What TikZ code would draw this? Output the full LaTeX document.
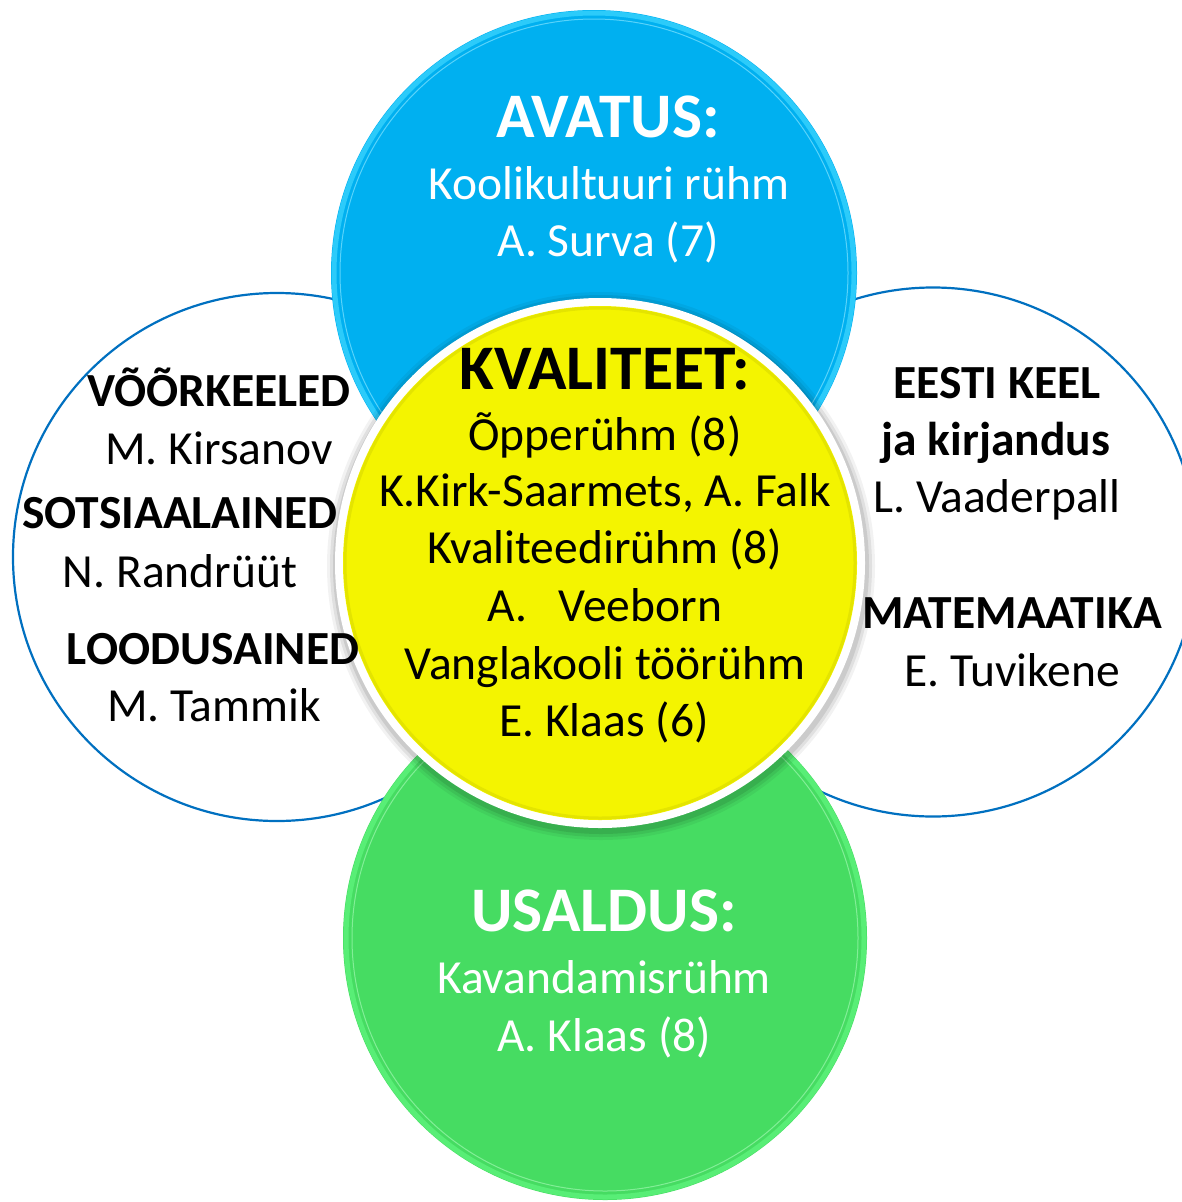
\documentclass[tikz,border=0pt]{standalone}
\usepackage{fontspec}
\setmainfont{Carlito}
\definecolor{ringblue}{HTML}{0070C0}
\definecolor{topblue}{HTML}{00B0F0}
\definecolor{topbluerim}{HTML}{2CCBFA}
\definecolor{topbluehi}{HTML}{7FE2FF}
\definecolor{botgreen}{HTML}{46DC62}
\definecolor{botgreenrim}{HTML}{58EE76}
\definecolor{botgreenhi}{HTML}{9CF7AE}
\definecolor{midyellow}{HTML}{F4F400}
\definecolor{midyellowdk}{HTML}{DADA00}
\tikzset{
  sidecircle/.style={draw=ringblue, line width=2.2pt, fill=white},
  body/.style={font=\fontsize{47.5}{57}\selectfont, anchor=base, inner sep=0pt},
  head/.style={font=\fontsize{63.5}{70}\selectfont\bfseries, anchor=base, inner sep=0pt},
  subj/.style={font=\fontsize{47.5}{57}\selectfont\bfseries, anchor=base, inner sep=0pt},
  ontint/.style={text=white},
}
\begin{document}
\begin{tikzpicture}[x=1pt, y=-1pt]
\path[use as bounding box, fill=white] (0,0) rectangle (1182,1202);

% side circles
\draw[sidecircle] (277,557) circle (264);
\draw[sidecircle] (933,552) circle (264.5);

% top blue circle
\fill[topblue] (594,273) circle (263);
\draw[topbluerim, line width=5pt] (594,273) circle (260);
\draw[topbluehi, line width=1pt, opacity=0.7] (594,273) circle (254);

% bottom green circle
\fill[botgreen] (605,938) circle (262);
\draw[botgreenrim, line width=5pt] (605,938) circle (259);
\draw[botgreenhi, line width=1pt, opacity=0.7] (605,938) circle (253);

% centre yellow circle with soft shadow and white border
\foreach \r/\o in {274/0.05, 271/0.07, 268/0.09}
  \fill[black, opacity=\o] (601,566) circle (\r);
\fill[white] (600,563) circle (265);
\fill[midyellow] (600,563) circle (257);
\draw[midyellowdk, line width=3pt, opacity=0.6] (600,563) circle (255);

% top texts
\node[head, ontint] (avh) at (608,137) {AVATUS:};
\node[body, ontint] (avg) at (609,199) {Koolikultuuri rühm};
\node[body, ontint] (avp) at (608,256) {A. Surva (7)};

% centre texts
\node[head] (kvh) at (605,389) {KVALITEET:};
\node[body] (kv1) at (605,450) {Õpperühm (8)};
\node[body] (kv2) at (605,506) {K.Kirk-Saarmets, A. Falk};
\node[body] (kv3) at (605,563) {Kvaliteedirühm (8)};
\node[body] (kv4) at (605,621) {A.\hspace{31pt}Veeborn};
\node[body] (kv5) at (605,679) {Vanglakooli töörühm};
\node[body] (kv6) at (604,736) {E. Klaas (6)};

% bottom texts
\node[head, ontint] (ush) at (604,931) {USALDUS:};
\node[body, ontint] (usg) at (604,993) {Kavandamisrühm};
\node[body, ontint] (usp) at (604,1051) {A. Klaas (8)};

% left texts
\node[subj] (l1) at (219,406) {VÕÕRKEELED};
\node[body] (l2) at (219,464) {M. Kirsanov};
\node[subj] (l3) at (180,528) {SOTSIAALAINED};
\node[body] (l4) at (180,587) {N. Randrüüt};
\node[subj] (l5) at (213,664) {LOODUSAINED};
\node[body] (l6) at (214,721) {M. Tammik};

% right texts
\node[subj] (r1) at (997,398) {EESTI KEEL};
\node[subj] (r2) at (996,455) {ja kirjandus};
\node[body] (r3) at (997,512) {L. Vaaderpall};
\node[subj] (r4) at (1012,628) {MATEMAATIKA};
\node[body] (r5) at (1012,686) {E. Tuvikene};
\end{tikzpicture}
\end{document}
